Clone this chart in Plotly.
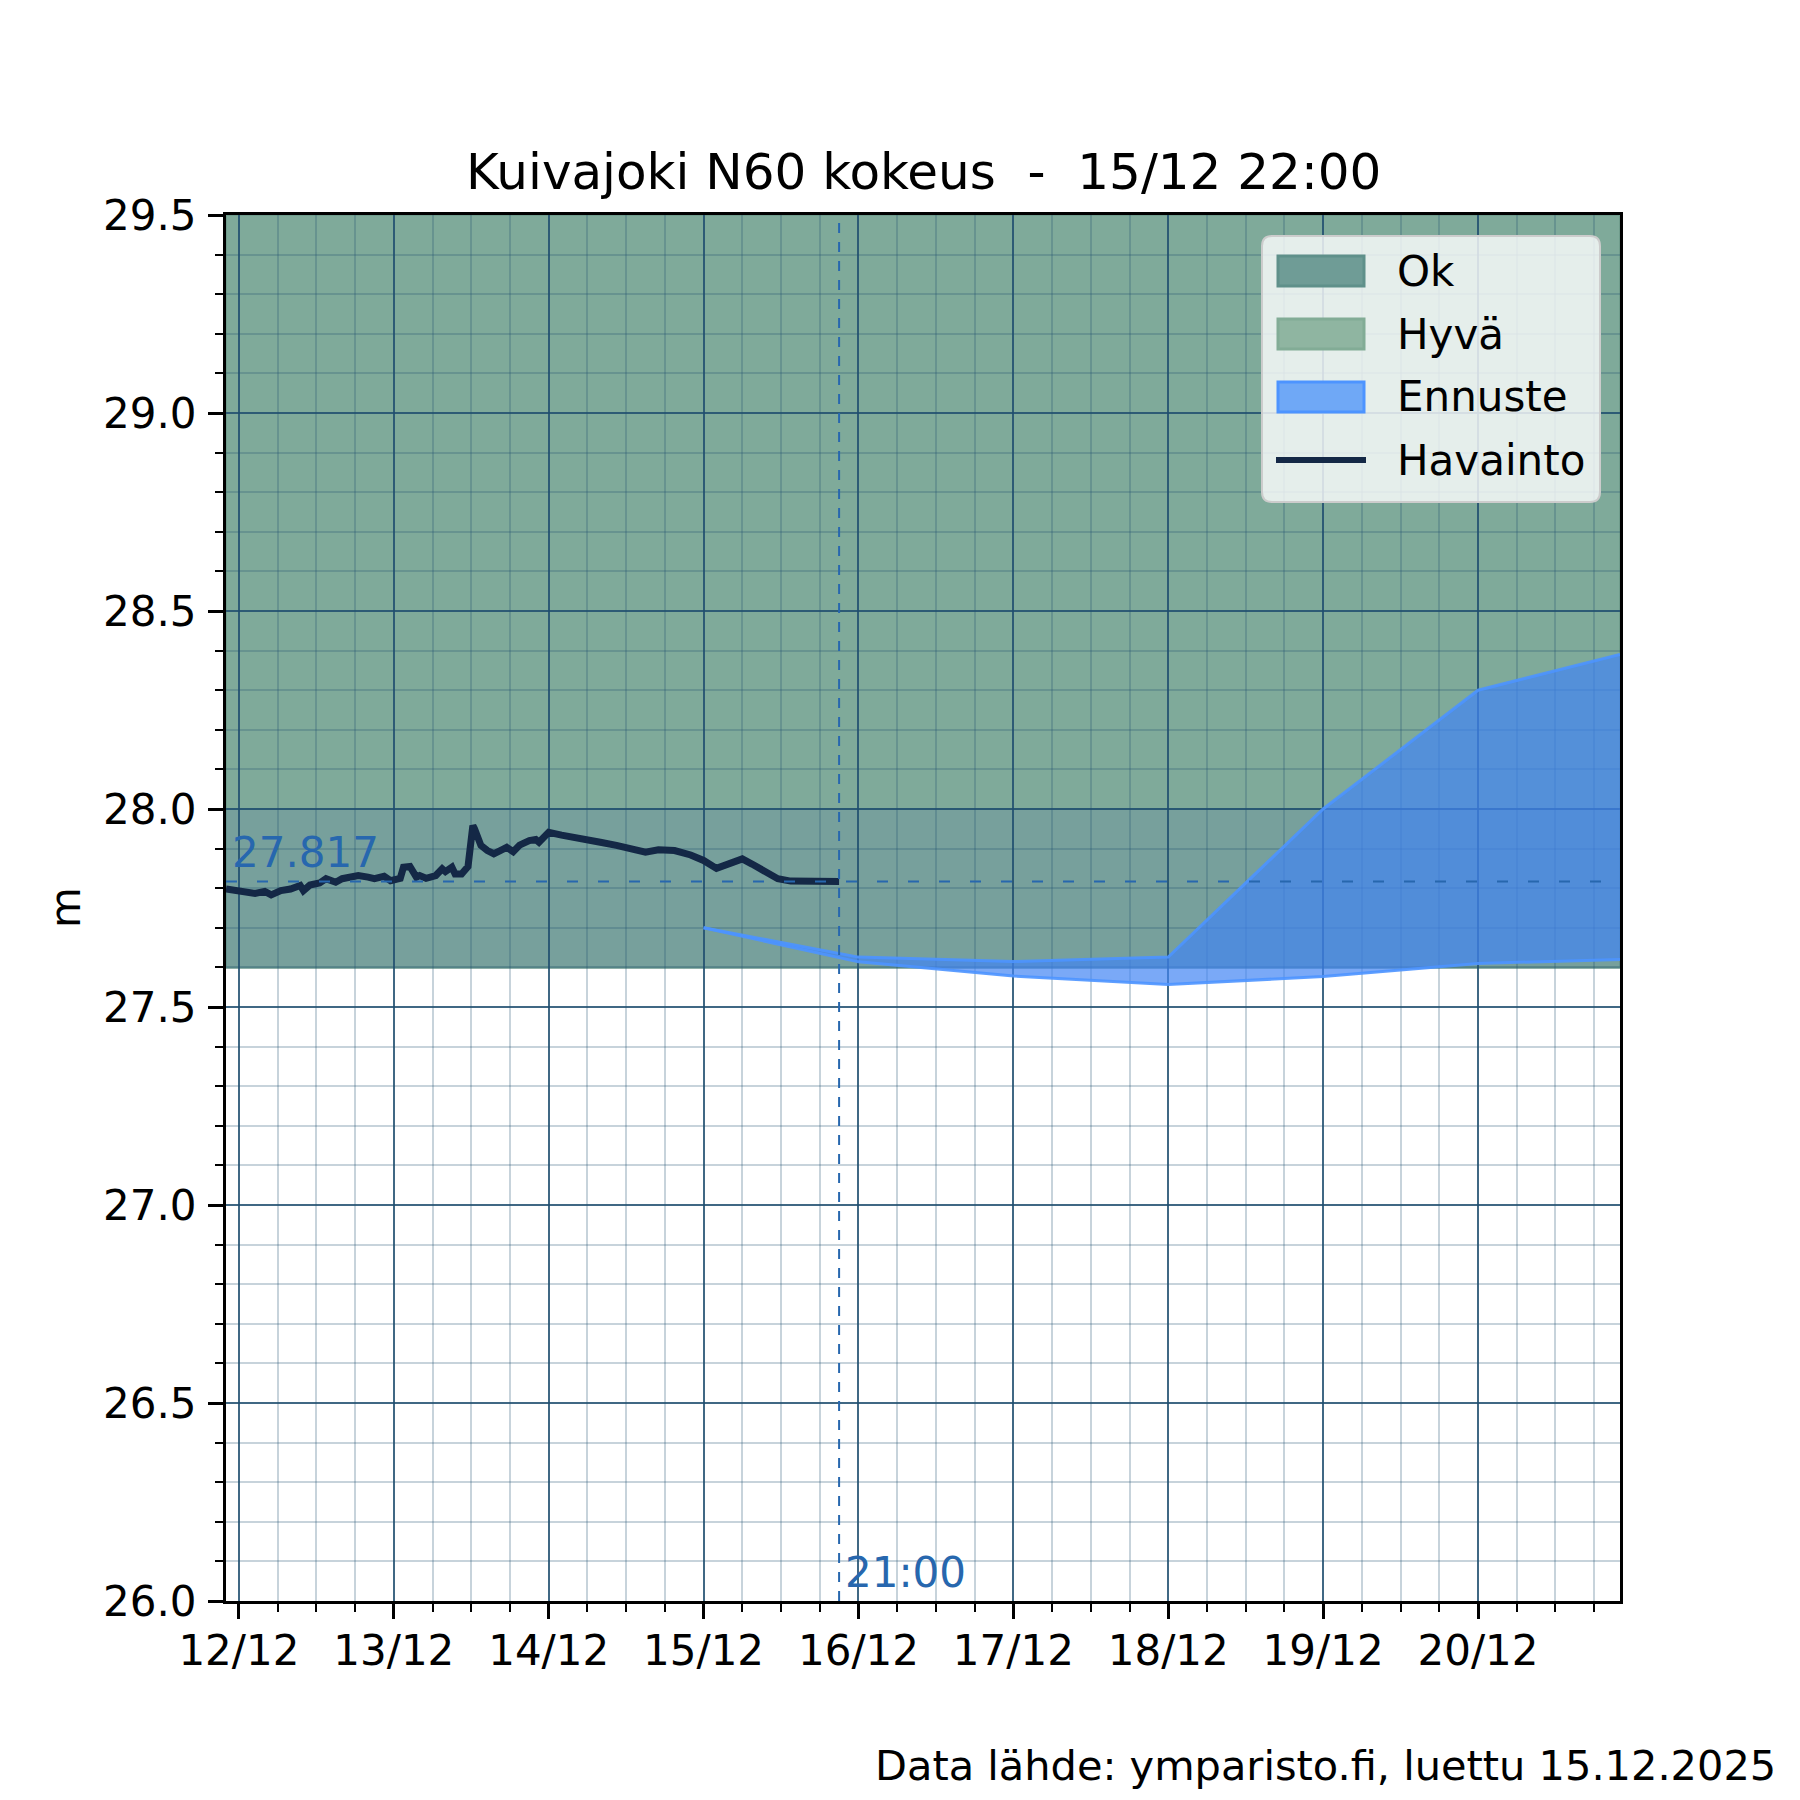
import pandas as pd
import plotly.graph_objects as go

# ---------------- data ----------------
OBS_START = pd.Timestamp("2025-12-12 00:00")
obs_hours = [-2, 0, 2.5, 4, 5, 6.5, 8, 9.5, 10, 11, 12.5, 13.5, 15, 16, 17.5, 18.5,
             20, 21, 22.5, 23.5, 25, 25.5, 26.5, 27.5, 28, 29, 30.5, 31.5, 32, 33,
             33.5, 34.5, 35.5, 36.25, 36.5, 37.5, 38.5, 39.5, 40.5, 41.5, 42.5, 43.5,
             45, 46, 46.5, 48, 50, 53.5, 56, 58.5, 61, 63, 65, 67.5, 70, 72, 74, 75.5,
             78, 79.5, 81.5, 83.5, 85.5, 88, 90.5, 93]
obs_values = [27.798, 27.792, 27.787, 27.792, 27.783, 27.794, 27.798, 27.807, 27.794,
              27.808, 27.813, 27.824, 27.815, 27.824, 27.828, 27.832, 27.828, 27.824,
              27.830, 27.819, 27.825, 27.853, 27.855, 27.828, 27.832, 27.825, 27.832,
              27.849, 27.842, 27.853, 27.836, 27.836, 27.855, 27.958, 27.950, 27.908,
              27.895, 27.887, 27.895, 27.903, 27.892, 27.909, 27.920, 27.923, 27.916,
              27.941, 27.934, 27.926, 27.916, 27.908, 27.899, 27.891, 27.897, 27.895,
              27.884, 27.870, 27.850, 27.859, 27.874, 27.861, 27.840, 27.824, 27.818,
              27.819, 27.818, 27.817]

fc_times = ["2025-12-15 00:00", "2025-12-16 00:00", "2025-12-17 00:00", "2025-12-18 00:00",
            "2025-12-19 00:00", "2025-12-20 00:00", "2025-12-20 22:00"]
fc_low = [27.70, 27.614, 27.578, 27.557, 27.577, 27.610, 27.620]
fc_high = [27.70, 27.626, 27.615, 27.626, 28.00, 28.30, 28.39]

band_ok = [27.6, 28.0]
band_hyva = [27.6, 29.5]
last_value = 27.817
last_time = "2025-12-15 21:00"
x_range = ["2025-12-11 22:00", "2025-12-20 22:00"]
y_range = [26.0, 29.5]

legend_names = ["Ok", "Hyvä", "Ennuste", "Havainto"]
title_text = "Kuivajoki N60 kokeus \u00a0-\u00a0 15/12 22:00"
source_text = "Data lähde: ymparisto.fi, luettu 15.12.2025"

obs_times = [OBS_START + pd.Timedelta(hours=h) for h in obs_hours]

FONT = "DejaVu Sans"
LBL = "#2767ae"
OBS_COLOR = "#142846"

# page geometry of the plot area (page pixels; body has an 8px margin)
PL, PR, PT, PB = 226, 1620, 215, 1601
PW, PH = PR - PL, PB - PT


def px(X):
    return (X - PL) / PW


def py(Y):
    return (PB - Y) / PH


fig = go.Figure()

# forecast band
fig.add_trace(go.Scatter(x=fc_times, y=fc_low, mode="lines",
                         line=dict(color="rgba(77,148,255,0.9)", width=3),
                         showlegend=False, hoverinfo="skip"))
fig.add_trace(go.Scatter(x=fc_times, y=fc_high, mode="lines", fill="tonexty",
                         fillcolor="rgba(66,133,244,0.7)",
                         line=dict(color="rgba(77,148,255,0.9)", width=3),
                         name=legend_names[2], showlegend=False))
# observations
fig.add_trace(go.Scatter(x=obs_times, y=obs_values, mode="lines",
                         line=dict(color=OBS_COLOR, width=7),
                         name=legend_names[3], showlegend=False))

# background bands (below gridlines)
fig.add_shape(type="rect", xref="x domain", x0=0, x1=1, yref="y",
              y0=band_hyva[0], y1=band_hyva[1], fillcolor="#7faa9a",
              line=dict(color="#6f9c8c", width=2), layer="below")
fig.add_shape(type="rect", xref="x domain", x0=0, x1=1, yref="y",
              y0=band_ok[0], y1=band_ok[1], fillcolor="#77a09c",
              line=dict(color="#66948e", width=2), layer="below")

# reference lines
fig.add_shape(type="line", xref="x domain", x0=0, x1=1, yref="y",
              y0=last_value, y1=last_value, layer="above",
              line=dict(color=LBL, width=2, dash="11px,20px"))
fig.add_shape(type="line", xref="x", x0=last_time, x1=last_time, yref="y domain",
              y0=0, y1=1, layer="above",
              line=dict(color=LBL, width=2, dash="10px,9px"))

fig.add_annotation(text=f"{last_value:.3f}", xref="x domain", x=0, yref="y", y=last_value,
                   xanchor="left", yanchor="bottom", xshift=4, yshift=2, showarrow=False,
                   font=dict(family=FONT, size=42, color=LBL))
fig.add_annotation(text="21:00", xref="x", x=last_time, yref="y", y=y_range[0],
                   xanchor="left", yanchor="bottom", xshift=4, yshift=2, showarrow=False,
                   font=dict(family=FONT, size=42, color=LBL))

# ---------------- legend (drawn box) ----------------
lx0, lx1, ly0, ly1 = px(1262), px(1600), py(502), py(236)
rx, ry = 10 / PW, 10 / PH
box_path = (f"M{lx0+rx},{ly1} L{lx1-rx},{ly1} Q{lx1},{ly1} {lx1},{ly1-ry} "
            f"L{lx1},{ly0+ry} Q{lx1},{ly0} {lx1-rx},{ly0} L{lx0+rx},{ly0} "
            f"Q{lx0},{ly0} {lx0},{ly0+ry} L{lx0},{ly1-ry} Q{lx0},{ly1} {lx0+rx},{ly1} Z")
fig.add_shape(type="path", xref="paper", yref="paper", path=box_path,
              fillcolor="rgba(255,255,255,0.8)", line=dict(color="#cccccc", width=2),
              layer="above")
swatches = [("#6f9c96", "#5f908a"), ("#8fb5a1", "#82ac96"), ("#6fa8f6", "#4d94ff")]
row_centers = [271, 334, 397, 460]
for (fill, edge), yc in zip(swatches, row_centers[:3]):
    fig.add_shape(type="rect", xref="paper", yref="paper",
                  x0=px(1278), x1=px(1364), y0=py(yc + 15), y1=py(yc - 15),
                  fillcolor=fill, line=dict(color=edge, width=3), layer="above")
fig.add_shape(type="line", xref="paper", yref="paper", x0=px(1276), x1=px(1366),
              y0=py(row_centers[3]), y1=py(row_centers[3]),
              line=dict(color=OBS_COLOR, width=6), layer="above")
for name, yc in zip(legend_names, row_centers):
    fig.add_annotation(text=name, xref="paper", x=px(1395), yref="paper", y=py(yc),
                       xanchor="left", yanchor="middle", showarrow=False,
                       font=dict(family=FONT, size=42, color="black"))

# title, y label, source
fig.add_annotation(text=title_text, xref="paper", x=0.5, yref="paper", y=1,
                   xanchor="center", yanchor="bottom", yshift=12, showarrow=False,
                   font=dict(family=FONT, size=50, color="black"))
fig.add_annotation(text="m", xref="paper", x=px(65), yref="paper", y=0.5,
                   xanchor="center", yanchor="middle", textangle=-90, showarrow=False,
                   font=dict(family=FONT, size=42, color="black"))
fig.add_annotation(text=source_text, xref="paper", x=px(1778), yref="paper",
                   y=py(1792), xanchor="right", yanchor="bottom",
                   showarrow=False, font=dict(family=FONT, size=41.5, color="black"))

major_grid = "rgba(31,78,110,0.85)"
minor_grid = "rgba(31,78,110,0.25)"

fig.update_xaxes(type="date", range=x_range, tick0="2025-12-12", dtick=86400000,
                 tickformat="%d/%m", ticks="outside", ticklen=15, tickwidth=3,
                 tickcolor="black", ticklabelstandoff=-4,
                 showgrid=True, gridcolor=major_grid, gridwidth=2,
                 showline=True, linecolor="black", linewidth=3, mirror=True,
                 zeroline=False,
                 tickfont=dict(family=FONT, size=42, color="black"),
                 minor=dict(tick0="2025-12-12", dtick=6 * 3600000, ticks="outside",
                            ticklen=8, tickwidth=2, tickcolor="black",
                            showgrid=True, gridcolor=minor_grid, gridwidth=1.5))
fig.update_yaxes(range=y_range, tick0=26, dtick=0.5, tickformat=".1f",
                 ticks="outside", ticklen=15, tickwidth=3, tickcolor="black",
                 ticklabelstandoff=3,
                 showgrid=True, gridcolor=major_grid, gridwidth=2,
                 showline=True, linecolor="black", linewidth=3, mirror=True,
                 zeroline=False,
                 tickfont=dict(family=FONT, size=42, color="black"),
                 minor=dict(tick0=26, dtick=0.1, ticks="outside", ticklen=8,
                            tickwidth=2, tickcolor="black",
                            showgrid=True, gridcolor=minor_grid, gridwidth=1.5))

W = H = 1784
fig.update_layout(
    width=W, height=H,
    margin=dict(l=PL - 8, r=W - (PR - 8), t=PT - 8, b=H - (PB - 8)),
    paper_bgcolor="white", plot_bgcolor="white",
    font=dict(family=FONT, size=42, color="black"),
    showlegend=False,
)

fig.write_html("out.html")
